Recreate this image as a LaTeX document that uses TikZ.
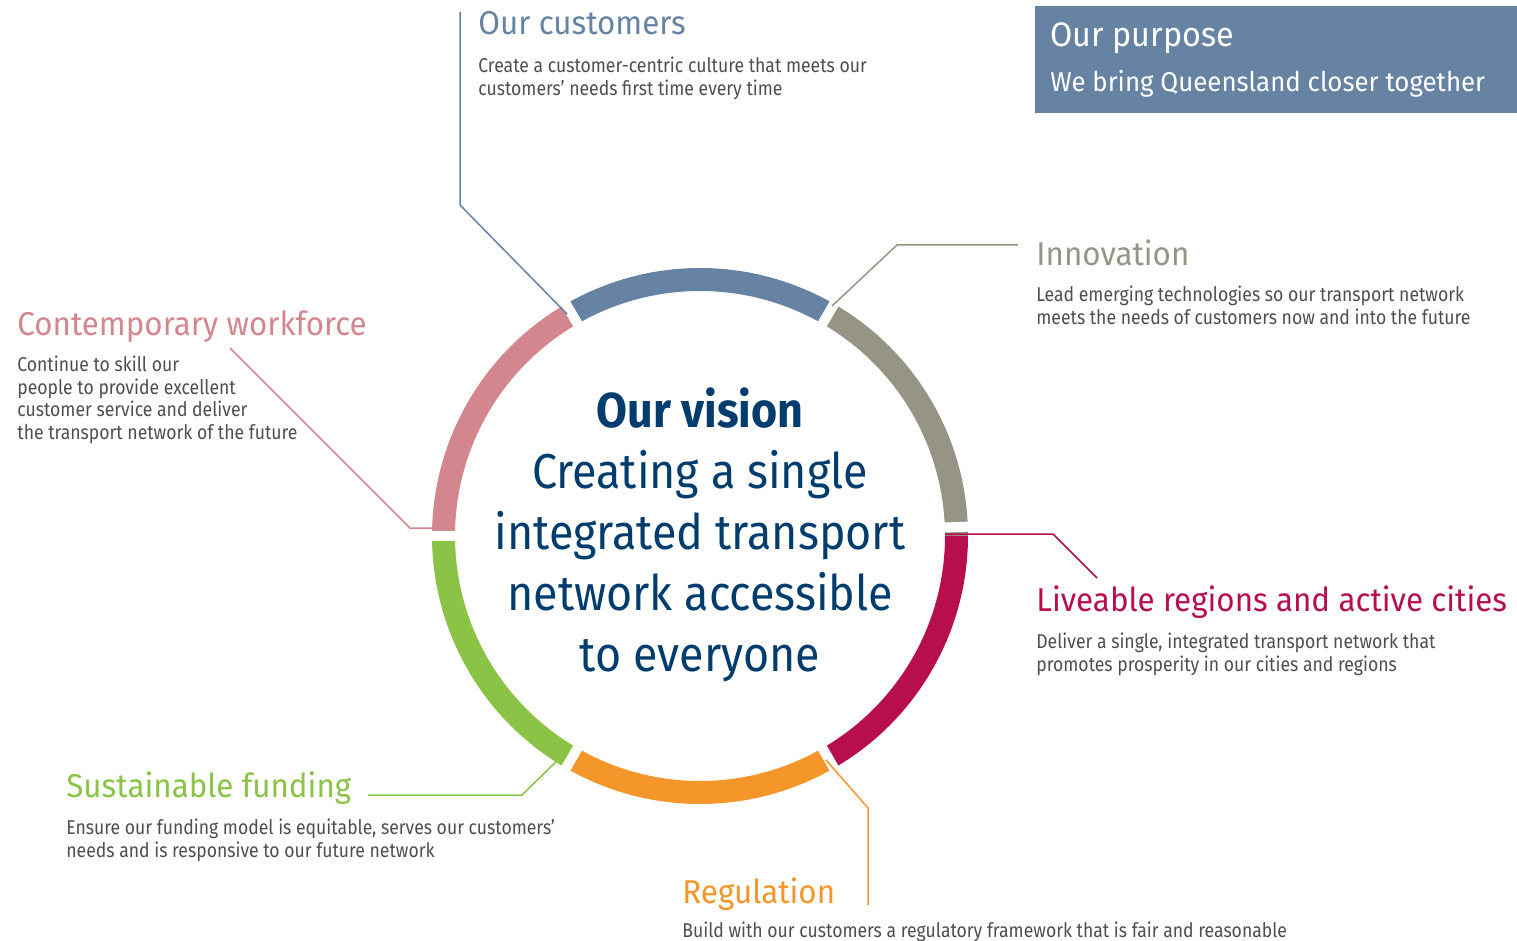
\documentclass[tikz,border=0pt]{standalone}
\usepackage{fontspec}
\setmainfont{Fira Sans}[FakeStretch=0.88]
\newfontfamily\headfont{Fira Sans}[FakeStretch=0.95]
\newfontfamily\visionfont{Fira Sans}[FakeStretch=0.915]
\definecolor{custblue}{RGB}{103,131,164}
\definecolor{innogray}{RGB}{150,148,132}
\definecolor{livred}{RGB}{183,14,78}
\definecolor{regorange}{RGB}{245,150,42}
\definecolor{fundgreen}{RGB}{138,195,69}
\definecolor{workpink}{RGB}{212,134,143}
\definecolor{visionblue}{RGB}{0,60,110}
\definecolor{bodygray}{RGB}{78,78,78}

\begin{document}
\begin{tikzpicture}[x=0.5pt,y=0.5pt,
  ring/.style={line width=11.5pt},
  gapline/.style={white,line width=5pt},
  link/.style={line width=0.75pt},
  head/.style={anchor=base west,inner sep=0pt,font=\headfont\fontsize{16.5}{20}\selectfont},
  body/.style={anchor=north west,inner sep=0pt,align=left,text=bodygray,
    font=\fontsize{10}{11.5}\selectfont}]
\useasboundingbox (0,0) rectangle (1517,-941);

% ring
\coordinate (ctr) at (700,-536);
\foreach \a/\col in {0/innogray,60/custblue,120/workpink,180/fundgreen,240/regorange,300/livred}
  \draw [ring,\col] (ctr) ++(\a:256.5) arc (\a:\a+60:256.5);
\foreach \a in {2,60,120,180,240,300}
  \draw [gapline] (ctr) ++(\a:230) -- ++(\a:55);

% vision
\node (vision) [anchor=north,inner sep=0pt,align=center,text=visionblue,
  font=\visionfont\fontsize{24.5}{30.5}\selectfont] at (700,-387)
  {\textbf{Our vision}\\Creating a single\\integrated transport\\network accessible\\to everyone};

% purpose box
\fill [custblue] (1035,-6) rectangle (1517,-113);
\node (purphead) [anchor=base west,inner sep=0pt,text=white,font=\headfont\fontsize{17}{20}\selectfont]
  at (1050,-47) {Our purpose};
\node (purptext) [anchor=base west,inner sep=0pt,text=white,font=\headfont\fontsize{13.6}{16}\selectfont]
  at (1050,-92) {We bring Queensland closer together};

% headings and texts
\node (custhead) [head,text=custblue] at (478,-35) {Our customers};
\node (custtext) [body] at (478,-57) {Create a customer-centric culture that meets our\\customers’ needs first time every time};
\node (innohead) [head,text=innogray] at (1036,-266) {Innovation};
\node (innotext) [body] at (1036,-286) {Lead emerging technologies so our transport network\\meets the needs of customers now and into the future};
\node (workhead) [head,text=workpink] at (17,-336) {Contemporary workforce};
\node (worktext) [body] at (17,-355) {Continue to skill our\\people to provide excellent\\customer service and deliver\\the transport network of the future};
\node (livhead) [head,text=livred] at (1036,-611) {Liveable regions and active cities};
\node (livtext) [body] at (1036,-632) {Deliver a single, integrated transport network that\\promotes prosperity in our cities and regions};
\node (fundhead) [head,text=fundgreen] at (66,-797) {Sustainable funding};
\node (fundtext) [body] at (66,-818) {Ensure our funding model is equitable, serves our customers’\\needs and is responsive to our future network};
\node (reghead) [head,text=regorange] at (682,-903) {Regulation};
\node (regtext) [body] at (682,-921) {Build with our customers a regulatory framework that is fair and reasonable};

% connectors
\coordinate (custa) at (460,-12);
\coordinate (custb) at (460,-205);
\coordinate (custc) at (567,-314);
\draw [link,custblue] (custa) -- (custb) -- (custc);
\coordinate (innoa) at (1018,-245);
\coordinate (innob) at (897,-245);
\coordinate (innoc) at (832,-306);
\draw [link,innogray] (innoa) -- (innob) -- (innoc);
\coordinate (liva) at (945,-534);
\coordinate (livb) at (1053,-534);
\coordinate (livc) at (1097,-578);
\draw [link,livred] (liva) -- (livb) -- (livc);
\coordinate (rega) at (868,-905);
\coordinate (regb) at (868,-808);
\coordinate (regc) at (826,-760);
\draw [link,regorange] (rega) -- (regb) -- (regc);
\coordinate (funda) at (368,-795);
\coordinate (fundb) at (522,-795);
\coordinate (fundc) at (566,-752);
\draw [link,fundgreen] (funda) -- (fundb) -- (fundc);
\coordinate (worka) at (230,-348);
\coordinate (workb) at (410,-528);
\coordinate (workc) at (455,-528);
\draw [link,workpink] (worka) -- (workb) -- (workc);
\end{tikzpicture}
\end{document}
